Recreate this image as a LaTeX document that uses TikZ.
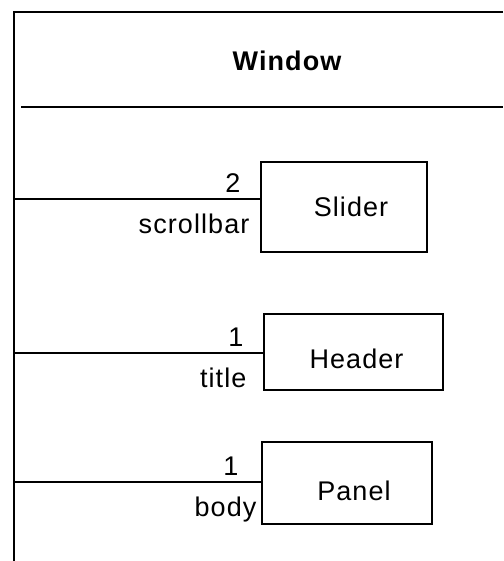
\documentclass[tikz,border=0pt]{standalone}
\usepackage{fontspec}
\setmainfont{Liberation Sans}[LetterSpace=4]
\usepackage{tikz}
\usetikzlibrary{positioning,calc}

\begin{document}
\begin{tikzpicture}[x=1pt,y=-1pt,line width=1.6pt,
                font=\fontsize{27}{31}\selectfont,
                part node/.style={rectangle,draw,inner sep=0pt},
                role label/.style={inner sep=0pt,anchor=north east,yshift=-14pt}]
  \useasboundingbox (0,0) rectangle (503,561);

  % the Window class, open at the right and bottom
  \draw (503,12) -- (14,12) -- (14,561);
  \draw (21,107) -- (503,107);
  \node (window) at (287,61) {\bfseries Window};

  % parts
  \node[part node, minimum width=166pt, minimum height=90pt] (slider) at (344,207) {\hspace*{14pt}Slider};
  \node[part node, minimum width=179pt, minimum height=76pt] (header) at (353.5,352) {\hspace*{6pt}\raisebox{-7pt}[\height][\depth]{Header}};
  \node[part node, minimum width=170pt, minimum height=82pt] (panel) at (347,483) {\hspace*{14pt}\raisebox{-8pt}[\height][\depth]{Panel}};

  \coordinate (s) at (14,199);
  \coordinate (h) at (14,353);
  \coordinate (p) at (14,482);

  \draw (s) -- (s -| slider.west)
    node[inner sep=0pt,anchor=south east,xshift=-19pt,yshift=6pt] {2}
    node[role label,xshift=-10pt] {scrollbar};
  \draw (h) -- (h -| header.west)
    node[inner sep=0pt,anchor=south east,xshift=-19pt,yshift=6pt] {1}
    node[role label,xshift=-16pt] {title};
  \draw (p) -- (p -| panel.west)
    node[inner sep=0pt,anchor=south east,xshift=-22pt,yshift=6pt] {1}
    node[role label,xshift=-4pt] {body};
\end{tikzpicture}
\end{document}
